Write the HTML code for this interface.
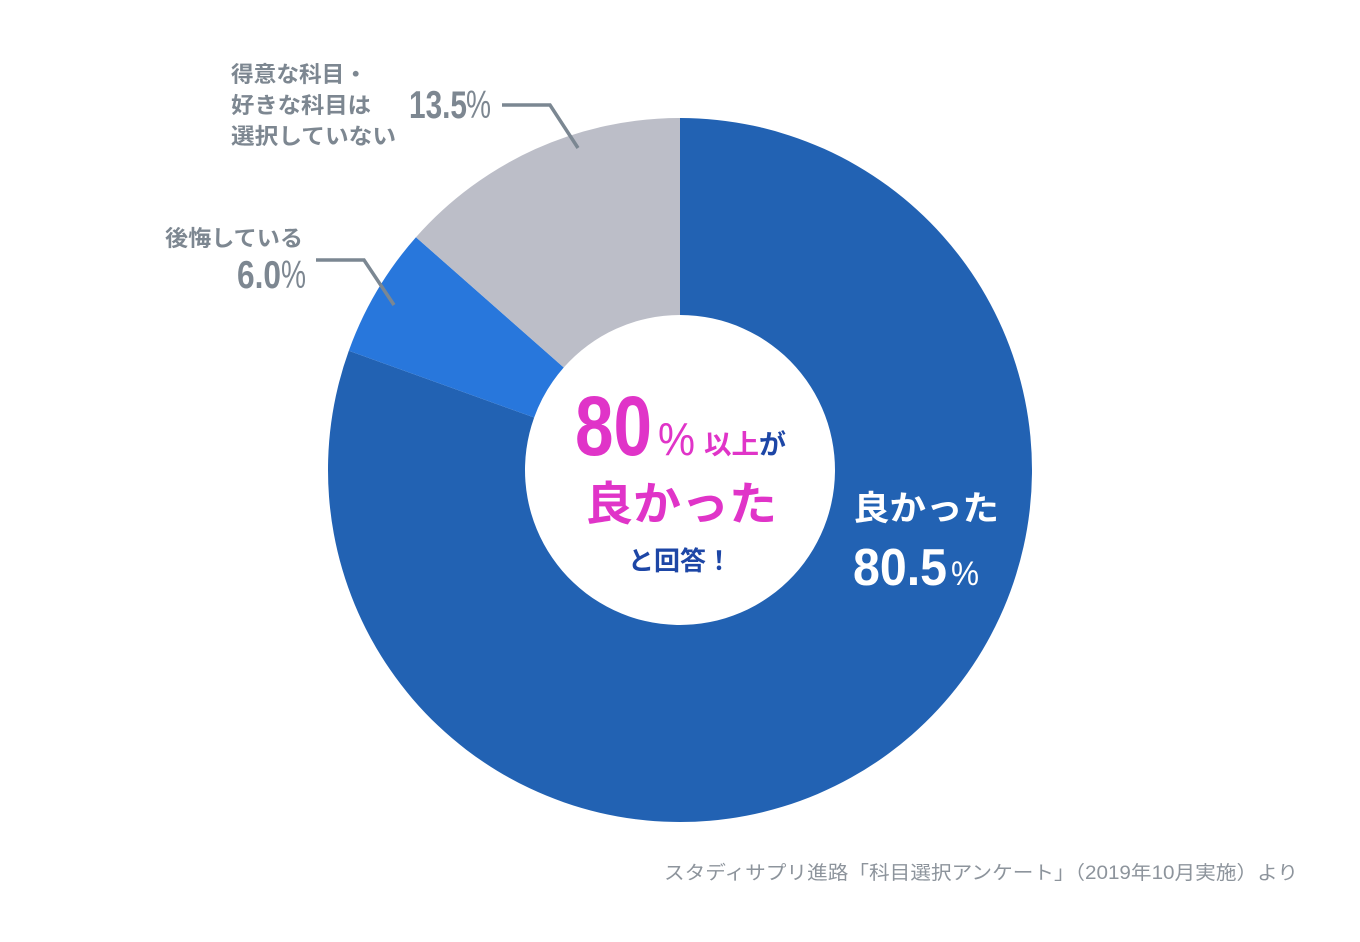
<!DOCTYPE html>
<html><head><meta charset="utf-8"><style>
html,body{margin:0;padding:0;background:#fff;}
svg{display:block;}
text{font-family:"Liberation Sans","Noto Sans CJK JP",sans-serif;}
</style></head><body>
<svg width="1360" height="942" viewBox="0 0 1360 942" xmlns="http://www.w3.org/2000/svg">
<rect width="1360" height="942" fill="#fff"/>
<path d="M680 118 A352 352 0 1 1 348.81 350.76 L534.16 417.5 A155 155 0 1 0 680 315 Z" fill="#2262b3"/>
<path d="M348.81 350.76 A352 352 0 0 1 415.96 237.22 L563.73 367.5 A155 155 0 0 0 534.16 417.5 Z" fill="#2877dc"/>
<path d="M415.96 237.22 A352 352 0 0 1 680 118 L680 315 A155 155 0 0 0 563.73 367.5 Z" fill="#bcbec8"/>

<!-- leader lines -->
<polyline points="502,105 550,105 578,148" fill="none" stroke="#7b8792" stroke-width="3.5"/>
<polyline points="316,260 364,260 394,305" fill="none" stroke="#7b8792" stroke-width="3.5"/>

<!-- left labels -->
<g fill="#7d8791" font-weight="700" font-size="22">
<text x="231" y="82" textLength="136" lengthAdjust="spacingAndGlyphs">得意な科目・</text>
<text x="231" y="113" textLength="140" lengthAdjust="spacingAndGlyphs">好きな科目は</text>
<text x="231" y="144" textLength="165" lengthAdjust="spacingAndGlyphs">選択していない</text>
<text x="165" y="246" textLength="138" lengthAdjust="spacingAndGlyphs">後悔している</text>
</g>
<g fill="#7d8791" font-weight="700" font-size="39">
<text x="409" y="118" textLength="58" lengthAdjust="spacingAndGlyphs">13.5</text>
<text x="466" y="118" font-weight="400" textLength="25" lengthAdjust="spacingAndGlyphs">%</text>
<text x="237" y="288" textLength="44" lengthAdjust="spacingAndGlyphs">6.0</text>
<text x="281" y="288" font-weight="400" textLength="25" lengthAdjust="spacingAndGlyphs">%</text>
</g>

<!-- center text -->
<text x="575" y="455" font-size="84" font-weight="700" fill="#e034c8" textLength="77" lengthAdjust="spacingAndGlyphs">80</text>
<text x="658" y="455" font-size="46" fill="#e034c8" textLength="37" lengthAdjust="spacingAndGlyphs">%</text>
<text x="704" y="454" font-size="27" font-weight="700" fill="#e034c8" textLength="55" lengthAdjust="spacingAndGlyphs">以上</text>
<text x="759" y="454" font-size="27" font-weight="700" fill="#1d46a6">が</text>
<text x="585" y="520" font-size="46" font-weight="700" fill="#e034c8" textLength="192" lengthAdjust="spacingAndGlyphs">良かった</text>
<text x="628" y="570" font-size="26" font-weight="700" fill="#1d46a6" textLength="104" lengthAdjust="spacingAndGlyphs">と回答！</text>

<!-- right label -->
<text x="853" y="520" font-size="34" font-weight="700" fill="#fff" textLength="146" lengthAdjust="spacingAndGlyphs">良かった</text>
<text x="853" y="585" font-size="52" font-weight="700" fill="#fff" textLength="94" lengthAdjust="spacingAndGlyphs">80.5</text>
<text x="951" y="585" font-size="34" fill="#fff" textLength="28" lengthAdjust="spacingAndGlyphs">%</text>

<!-- footer -->
<text x="664" y="879" font-size="19" fill="#8d949c" textLength="634" lengthAdjust="spacingAndGlyphs">スタディサプリ進路「科目選択アンケート」（2019年10月実施）より</text>
</svg>
</body></html>
